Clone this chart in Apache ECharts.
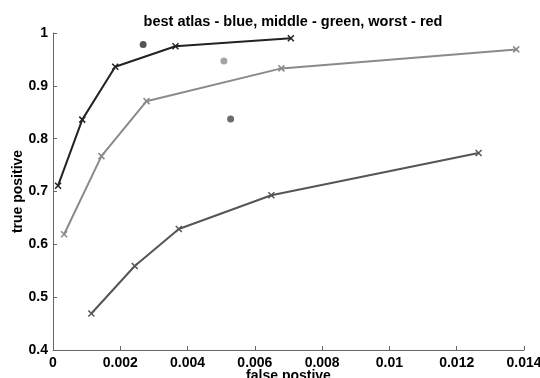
<!DOCTYPE html>
<html>
<head>
<meta charset="utf-8">
<script src="https://cdn.jsdelivr.net/npm/echarts@6/dist/echarts.min.js"></script>
<style>html,body{margin:0;padding:0;background:#fff}#c{width:540px;height:378px}</style>
</head>
<body>
<div id="c"></div>
<script>
const titleText = 'best atlas - blue, middle - green, worst - red';
const xName = 'false postive';
const yName = 'true positive';

const bestX = [0.00015, 0.00087, 0.00185, 0.00364, 0.00707];
const bestY = [0.711, 0.836, 0.936, 0.975, 0.990];
const bestDot = [0.00268, 0.978];

const middleX = [0.00033, 0.00144, 0.00278, 0.00679, 0.01377];
const middleY = [0.619, 0.767, 0.871, 0.933, 0.969];
const middleDot = [0.00508, 0.947];

const worstX = [0.00114, 0.00243, 0.00374, 0.00649, 0.01265];
const worstY = [0.469, 0.559, 0.629, 0.693, 0.773];
const worstDot = [0.00528, 0.837];

const xTicks = [0, 0.002, 0.004, 0.006, 0.008, 0.01, 0.012, 0.014];
const yTicks = [0.4, 0.5, 0.6, 0.7, 0.8, 0.9, 1];

const pair = (xs, ys) => xs.map((x, i) => [x, ys[i]]);
const cross = 'path://M0,0L10,10M10,0L0,10';
const FONT = 'Liberation Sans, Arial, sans-serif';

function lineSeries(xs, ys, color) {
  return {
    type: 'line',
    data: pair(xs, ys),
    symbol: cross,
    symbolSize: 6,
    showAllSymbol: true,
    lineStyle: { color: color, width: 2 },
    itemStyle: { color: color, borderColor: color, borderWidth: 1.5 },
    emphasis: { disabled: true },
    animation: false
  };
}
function dotSeries(p, color) {
  return {
    type: 'scatter',
    data: [p],
    symbol: 'circle',
    symbolSize: 7,
    itemStyle: { color: color },
    animation: false
  };
}

const chart = echarts.init(document.getElementById('c'));
chart.setOption({
  backgroundColor: '#fff',
  animation: false,
  title: {
    text: titleText,
    left: 288, textAlign: 'center', top: 9,
    textStyle: { fontFamily: FONT, fontWeight: 'bold', fontSize: 14.5, color: '#000' }
  },
  grid: { left: 53, right: 16, top: 33, bottom: 28, containLabel: false, outerBoundsMode: 'none' },
  xAxis: {
    type: 'value', min: 0, max: 0.014, interval: 0.002,
    name: xName, nameLocation: 'middle', nameGap: 19, nameMoveOverlap: false,
    nameTextStyle: { fontFamily: FONT, fontWeight: 'bold', fontSize: 14, color: '#000' },
    axisLine: { show: true, lineStyle: { color: '#666', width: 1 } },
    axisTick: { show: true, inside: true, length: 4, lineStyle: { color: '#666' } },
    splitLine: { show: false },
    axisLabel: {
      margin: 6, fontFamily: FONT, fontWeight: 'bold', fontSize: 14, color: '#000',
      formatter: v => { const t = xTicks.find(k => Math.abs(k - v) < 1e-9); return t === undefined ? '' : String(t); }
    }
  },
  yAxis: {
    type: 'value', min: 0.4, max: 1, interval: 0.1,
    name: yName, nameLocation: 'middle', nameGap: 28, nameRotate: 90, nameMoveOverlap: false,
    nameTextStyle: { fontFamily: FONT, fontWeight: 'bold', fontSize: 14, color: '#000' },
    axisLine: { show: true, lineStyle: { color: '#666', width: 1 } },
    axisTick: { show: true, inside: true, length: 4, lineStyle: { color: '#666' } },
    splitLine: { show: false },
    axisLabel: {
      margin: 5, fontFamily: FONT, fontWeight: 'bold', fontSize: 14, color: '#000',
      formatter: v => { const t = yTicks.find(k => Math.abs(k - v) < 1e-9); return t === undefined ? '' : String(t); }
    }
  },
  series: [
    lineSeries(bestX, bestY, '#222222'),
    lineSeries(middleX, middleY, '#8a8a8a'),
    lineSeries(worstX, worstY, '#555555'),
    dotSeries(bestDot, '#2a2a2a'),
    dotSeries(middleDot, '#8f8f8f'),
    dotSeries(worstDot, '#474747')
  ]
});
</script>
</body>
</html>
